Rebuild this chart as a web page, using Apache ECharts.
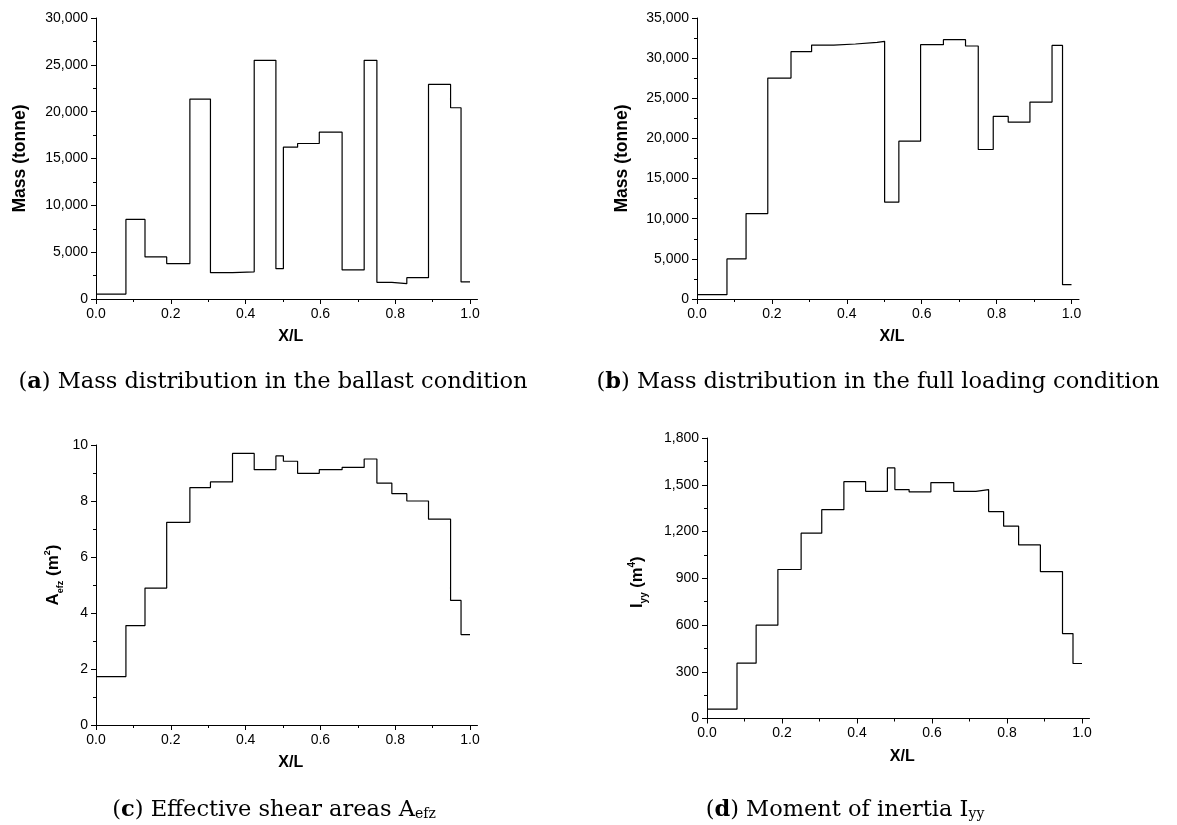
<!DOCTYPE html>
<html>
<head>
<meta charset="utf-8">
<script src="https://cdn.jsdelivr.net/npm/echarts@6/dist/echarts.min.js"></script>
<style>
  html, body { margin: 0; padding: 0; background: #fff; }
</style>
</head>
<body>
<div id="main" style="width: 1177px; height: 825px"></div>
<script>
// section boundaries along the hull (X/L)
const sections = [0, 0.080, 0.131, 0.189, 0.251, 0.306, 0.365, 0.423, 0.481, 0.501, 0.539,
  0.597, 0.658, 0.717, 0.751, 0.791, 0.831, 0.889, 0.948, 0.976, 1.0];

// value of each section (20 sections)
const ballastMass = [530, 8500, 4490, 3780, 21340, 2810, 2900, 25480, 3240, 16210,
  16600, 17810, 3100, 25480, 1780, 1640, 2280, 22910, 20420, 1820];
const fullMass = [540, 4990, 10640, 27520, 30800, 31630, 31760, 31970, 32090, 12060,
  19660, 31680, 32300, 31510, 18620, 22740, 22030, 24530, 31590, 1790];
const shearArea = [1.73, 3.55, 4.89, 7.24, 8.48, 8.68, 9.70, 9.12, 9.61, 9.42,
  8.99, 9.12, 9.20, 9.50, 8.64, 8.26, 8.00, 7.35, 4.45, 3.23];
const inertia = [60, 355, 599, 956, 1189, 1340, 1520, 1458, 1608, 1469,
  1454, 1514, 1458, 1469, 1328, 1234, 1114, 943, 545, 353];

const xMajor = [0, 0.2, 0.4, 0.6, 0.8, 1.0];
const xMinor = [0.1, 0.3, 0.5, 0.7, 0.9];

const captions = [
  ['a', 'Mass distribution in the ballast condition'],
  ['b', 'Mass distribution in the full loading condition'],
  ['c', 'Effective shear areas '],
  ['d', 'Moment of inertia ']
];

function steps(vals) {
  const pts = vals.map((v, i) => [sections[i], v]);
  pts.push([sections[sections.length - 1], vals[vals.length - 1]]);
  return pts;
}

const sans = 'Liberation Sans, Arial, sans-serif';
const serif = 'DejaVu Serif, serif';

const grids = [
  { left: 96, top: 18, width: 381.5, height: 281 },
  { left: 697, top: 18, width: 382, height: 281 },
  { left: 96, top: 445, width: 381.5, height: 280 },
  { left: 707, top: 438, width: 382.5, height: 280.5 }
];

const axisLine = { show: true, lineStyle: { color: '#000', width: 1 } };

function mainX(i) {
  return {
    type: 'value', gridIndex: i, position: 'bottom', min: 0, max: 1.02,
    name: 'X/L', nameLocation: 'middle', nameGap: 30,
    nameTextStyle: { fontFamily: sans, fontWeight: 'bold', fontSize: 16, color: '#000', padding: [0, 0, 0, 8] },
    axisLine: axisLine,
    axisTick: { show: true, length: 5, customValues: xMajor, lineStyle: { color: '#000' } },
    axisLabel: {
      customValues: xMajor, margin: 8, fontFamily: sans, fontSize: 14, color: '#000',
      formatter: v => v.toFixed(1)
    },
    splitLine: { show: false }
  };
}
function minorX(i) {
  return {
    type: 'value', gridIndex: i, position: 'bottom', min: 0, max: 1.02,
    axisLine: { show: false },
    axisTick: { show: true, length: 3, customValues: xMinor, lineStyle: { color: '#000' } },
    axisLabel: { show: false },
    splitLine: { show: false }
  };
}
function yAx(i, max, interval, name, gap, nameStyle) {
  return {
    type: 'value', gridIndex: i, min: 0, max: max, interval: interval,
    name: name, nameLocation: 'middle', nameGap: gap, nameRotate: 90,
    nameTextStyle: Object.assign({ fontFamily: sans, fontWeight: 'bold', fontSize: 17.5, color: '#000' }, nameStyle || {}),
    axisLine: axisLine,
    axisTick: { show: true, length: 5, lineStyle: { color: '#000' } },
    minorTick: { show: true, splitNumber: 2, length: 3, lineStyle: { color: '#000' } },
    axisLabel: { margin: 8, fontFamily: sans, fontSize: 14, color: '#000' },
    splitLine: { show: false }
  };
}

const richA = {
  b: { fontFamily: sans, fontWeight: 'bold', fontSize: 17, color: '#000' },
  sub: { fontFamily: sans, fontWeight: 'bold', fontSize: 9, color: '#000', verticalAlign: 'bottom', padding: [0, 0, -3, 0] },
  sup: { fontFamily: sans, fontWeight: 'bold', fontSize: 9, color: '#000', verticalAlign: 'top', padding: [-2, 0, 0, 0] }
};
const richI = {
  n: { fontFamily: sans, fontSize: 16.5, color: '#000' },
  sub: { fontFamily: sans, fontSize: 10, color: '#000', verticalAlign: 'bottom', padding: [0, 0, -3, 0] },
  sup: { fontFamily: sans, fontSize: 10, color: '#000', verticalAlign: 'top', padding: [-2, 0, 0, 0] }
};

const capRich = {
  t: { fontFamily: serif, fontSize: 22.5, color: '#000' },
  b: { fontFamily: serif, fontSize: 22.5, fontWeight: 'bold', color: '#000' },
  s: { fontFamily: serif, fontSize: 14, color: '#000', verticalAlign: 'bottom' }
};
const capPos = [[273, 382], [878, 382], [274, 810], [845, 810]];
const capSub = ['', '', 'efz', 'yy'];
const capBig = ['', '', 'A', 'I'];

const chart = echarts.init(document.getElementById('main'));
chart.setOption({
  animation: false,
  backgroundColor: '#fff',
  grid: grids.map(g => Object.assign({ outerBoundsMode: 'none', containLabel: false }, g)),
  xAxis: [0, 1, 2, 3].map(mainX).concat([0, 1, 2, 3].map(minorX)),
  yAxis: [
    yAx(0, 30000, 5000, 'Mass (tonne)', 67),
    yAx(1, 35000, 5000, 'Mass (tonne)', 65.5),
    yAx(2, 10, 2, '{b|A}{sub|efz}{b| (m}{sup|2}{b|)}', 34, { rich: richA, padding: [0, 0, 0, 20] }),
    yAx(3, 1800, 300, '{n|I}{sub|yy}{n| (m}{sup|4}{n|)}', 61, { rich: richI, padding: [0, 8, 0, 0] })
  ],
  series: [ballastMass, fullMass, shearArea, inertia].map((vals, i) => ({
    type: 'line',
    xAxisIndex: i,
    yAxisIndex: i,
    step: 'end',
    showSymbol: false,
    data: steps(vals),
    lineStyle: { color: '#000', width: 1.2 }
  })),
  graphic: captions.map((c, i) => ({
    type: 'text',
    x: capPos[i][0],
    y: capPos[i][1],
    style: {
      text: '{t|(}{b|' + c[0] + '}{t|) ' + c[1] + capBig[i] + '}' + (capSub[i] ? '{s|' + capSub[i] + '}' : ''),
      rich: capRich,
      align: 'center',
      verticalAlign: 'middle'
    }
  }))
});
</script>
</body>
</html>
